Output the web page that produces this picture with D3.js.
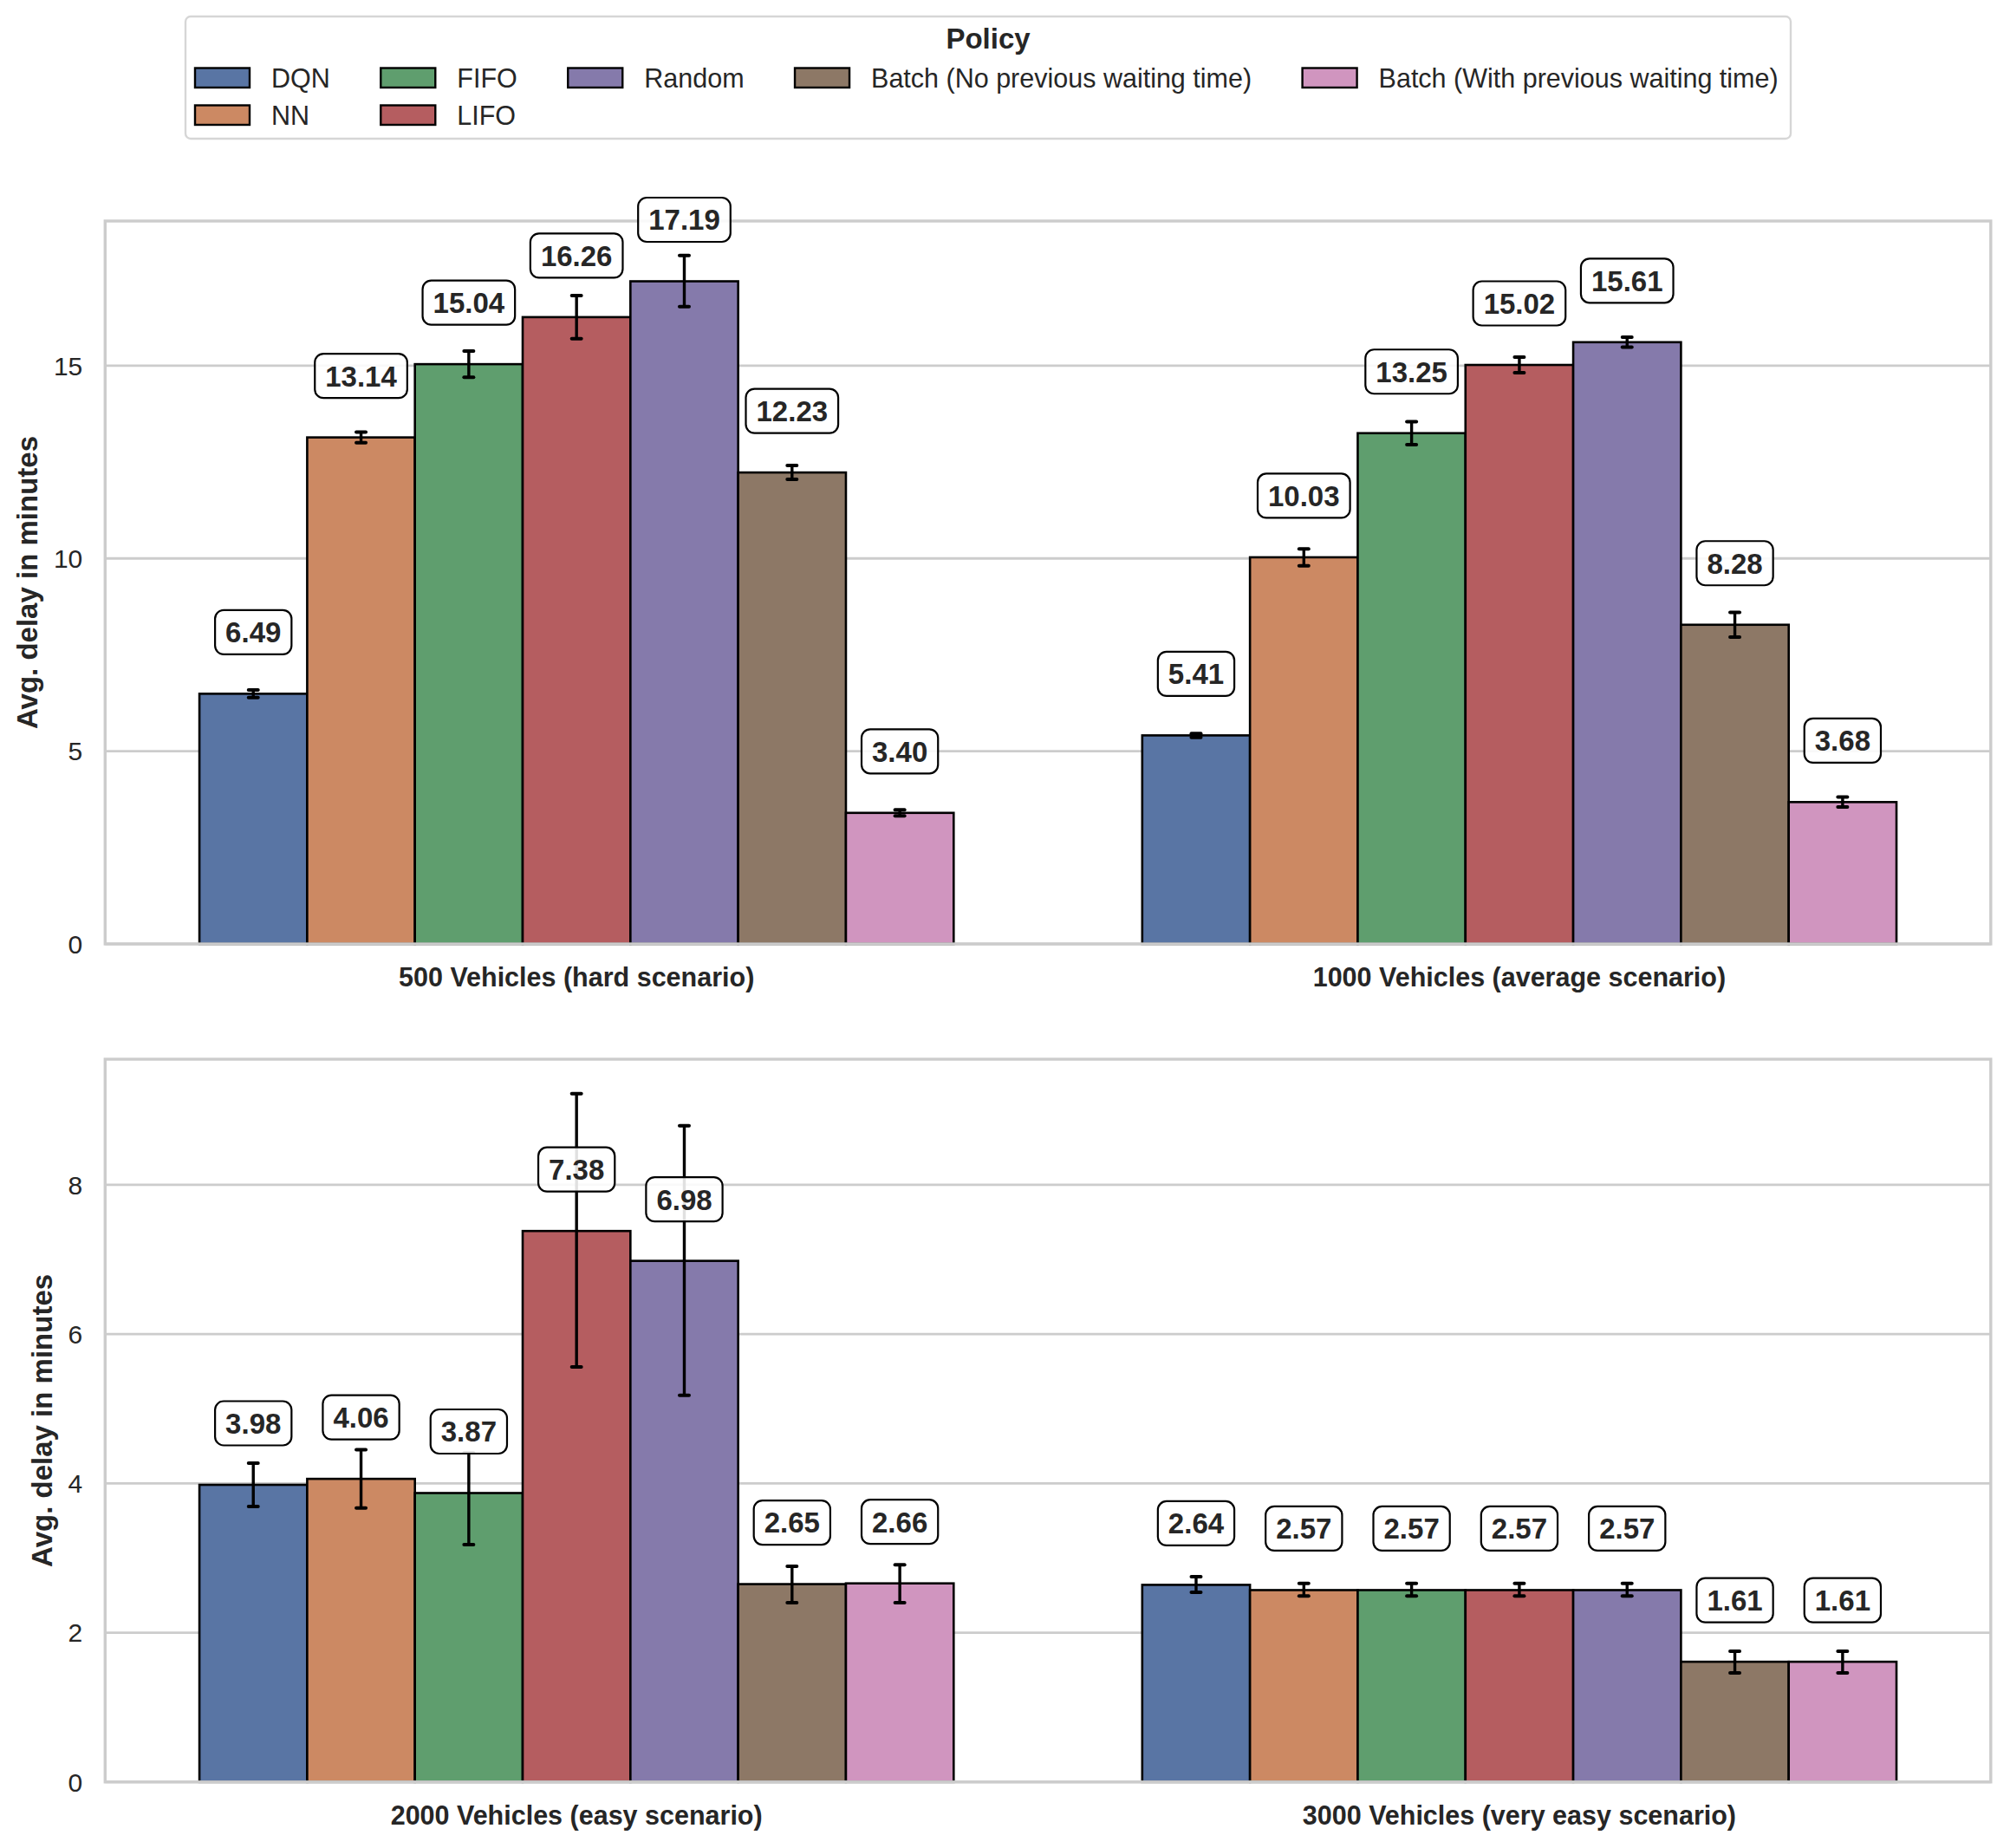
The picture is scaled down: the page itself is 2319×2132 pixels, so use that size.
<!DOCTYPE html>
<html>
<head>
<meta charset="utf-8">
<script src="https://cdn.jsdelivr.net/npm/d3@7"></script>
<style>
  html, body { margin: 0; padding: 0; background: #fff; }
  svg { display: block; font-family: "Liberation Sans", Arial, sans-serif; }
</style>
</head>
<body>
<div id="chart"></div>
<script>
// Policies and palette (seaborn "deep", desaturated like barplot)
const policies = ['DQN', 'NN', 'FIFO', 'LIFO', 'Random',
  'Batch (No previous waiting time)', 'Batch (With previous waiting time)'];
const policyColors = ['#5975a4', '#cc8963', '#5f9e6e', '#b55d60', '#857aab', '#8d7866', '#d095bf'];

// Top panel
const topScenarios = ['500 Vehicles (hard scenario)', '1000 Vehicles (average scenario)'];
const topMeans = [
  [6.49, 13.14, 15.04, 16.26, 17.19, 12.23, 3.40],
  [5.41, 10.03, 13.25, 15.02, 15.61, 8.28, 3.68],
];
const topLow = [
  [6.39, 13.00, 14.70, 15.70, 16.53, 12.05, 3.32],
  [5.36, 9.81, 12.95, 14.82, 15.48, 7.96, 3.55],
];
const topHigh = [
  [6.59, 13.28, 15.38, 16.82, 17.86, 12.41, 3.48],
  [5.46, 10.25, 13.55, 15.22, 15.74, 8.60, 3.81],
];
const topTicks = [0, 5, 10, 15];

// Bottom panel
const bottomScenarios = ['2000 Vehicles (easy scenario)', '3000 Vehicles (very easy scenario)'];
const bottomMeans = [
  [3.98, 4.06, 3.87, 7.38, 6.98, 2.65, 2.66],
  [2.64, 2.57, 2.57, 2.57, 2.57, 1.61, 1.61],
];
const bottomLow = [
  [3.69, 3.67, 3.18, 5.56, 5.18, 2.40, 2.40],
  [2.54, 2.49, 2.49, 2.49, 2.49, 1.46, 1.46],
];
const bottomHigh = [
  [4.27, 4.45, 4.41, 9.22, 8.79, 2.89, 2.91],
  [2.75, 2.66, 2.66, 2.66, 2.66, 1.75, 1.75],
];
const bottomTicks = [0, 2, 4, 6, 8];

const W = 2319, H = 2132;
const TEXT = '#262626';
const GRID = '#cccccc';

const svg = d3.select('#chart').append('svg')
  .attr('width', W).attr('height', H)
  .attr('viewBox', `0 0 ${W} ${H}`);
svg.append('rect').attr('width', W).attr('height', H).attr('fill', '#fff');

function drawPanel(box, scenarios, means, low, high, ticks) {
  const g = svg.append('g');
  const maxTop = d3.max(high.flat());
  const y = d3.scaleLinear().domain([0, maxTop * 1.05]).range([box.bottom, box.top]);
  const x0 = d3.scaleBand().domain(scenarios).range([box.left, box.right])
    .paddingInner(0.2).paddingOuter(0.1);
  const x1 = d3.scaleBand().domain(policies).range([0, x0.bandwidth()]);

  // gridlines
  g.selectAll('.grid').data(ticks).enter().append('line')
    .attr('x1', box.left).attr('x2', box.right)
    .attr('y1', (d) => y(d)).attr('y2', (d) => y(d))
    .attr('stroke', GRID).attr('stroke-width', 2.8);

  // y tick labels
  const tickText = g.selectAll('.ytick').data(ticks).enter().append('text')
    .attr('x', box.left - 26)
    .attr('y', (d) => y(d))
    .attr('dy', '0.36em')
    .attr('text-anchor', 'end')
    .attr('font-size', 30)
    .attr('fill', TEXT)
    .text((d) => d);

  // rows: one record per bar
  const rows = [];
  scenarios.forEach((s, si) => {
    policies.forEach((p, pi) => {
      rows.push({ s, p, pi, v: means[si][pi], lo: low[si][pi], hi: high[si][pi] });
    });
  });

  // bars
  g.selectAll('.bar').data(rows).enter().append('rect')
    .attr('x', (d) => x0(d.s) + x1(d.p))
    .attr('y', (d) => y(d.v))
    .attr('width', x1.bandwidth())
    .attr('height', (d) => y(0) - y(d.v))
    .attr('fill', (d) => policyColors[d.pi])
    .attr('stroke', '#000')
    .attr('stroke-width', 2.6);

  // spines
  g.append('rect')
    .attr('x', box.left).attr('y', box.top)
    .attr('width', box.right - box.left).attr('height', box.bottom - box.top)
    .attr('fill', 'none').attr('stroke', GRID).attr('stroke-width', 3.4);

  // error bars
  const cx = (d) => x0(d.s) + x1(d.p) + x1.bandwidth() / 2;
  const eb = g.selectAll('.err').data(rows).enter().append('g');
  eb.append('line')
    .attr('x1', cx).attr('x2', cx)
    .attr('y1', (d) => y(d.lo)).attr('y2', (d) => y(d.hi))
    .attr('stroke', '#000').attr('stroke-width', 3.4);
  ['lo', 'hi'].forEach((k) => {
    eb.append('line')
      .attr('x1', (d) => cx(d) - 5.5).attr('x2', (d) => cx(d) + 5.5)
      .attr('y1', (d) => y(d[k])).attr('y2', (d) => y(d[k]))
      .attr('stroke', '#000').attr('stroke-width', 4)
      .attr('stroke-linecap', 'round');
  });

  // value labels in rounded boxes
  const lab = g.selectAll('.lab').data(rows).enter().append('g')
    .attr('transform', (d) => `translate(${cx(d)},${y(d.v) - 71})`);
  lab.append('rect');
  const texts = lab.append('text')
    .attr('text-anchor', 'middle')
    .attr('dy', '0.36em')
    .attr('font-size', 33)
    .attr('font-weight', 'bold')
    .attr('fill', TEXT)
    .text((d) => d.v.toFixed(2));
  texts.each(function () {
    const w = this.getComputedTextLength();
    d3.select(this.parentNode).select('rect')
      .attr('x', -w / 2 - 12).attr('y', -25.5)
      .attr('width', w + 24).attr('height', 51)
      .attr('rx', 10).attr('ry', 10)
      .attr('fill', 'rgba(255,255,255,0.88)')
      .attr('stroke', '#000').attr('stroke-width', 2.2);
  });

  // x tick labels
  g.selectAll('.xtick').data(scenarios).enter().append('text')
    .attr('x', (d) => x0(d) + x0.bandwidth() / 2)
    .attr('y', box.bottom + 49)
    .attr('text-anchor', 'middle')
    .attr('font-size', 30.5)
    .attr('font-weight', 'bold')
    .attr('fill', TEXT)
    .text((d) => d);

  // y axis label, placed left of the widest tick label
  let minX = Infinity;
  tickText.each(function () { minX = Math.min(minX, this.getBBox().x); });
  const yc = (box.top + box.bottom) / 2;
  g.append('text')
    .attr('transform', `translate(${minX - 11 - 8},${yc}) rotate(-90)`)
    .attr('text-anchor', 'middle')
    .attr('font-size', 33)
    .attr('font-weight', 'bold')
    .attr('fill', TEXT)
    .text('Avg. delay in minutes');
}

drawPanel({ left: 121.3, right: 2296.8, top: 255, bottom: 1089 },
  topScenarios, topMeans, topLow, topHigh, topTicks);
drawPanel({ left: 121.3, right: 2296.8, top: 1222, bottom: 2055.8 },
  bottomScenarios, bottomMeans, bottomLow, bottomHigh, bottomTicks);

// Legend: 5 columns, 2 rows; like matplotlib the first (n % ncol) columns get 2 entries
const legend = svg.append('g');
const legBox = { x: 214, y: 19, w: 1852, h: 141 };
legend.append('rect')
  .attr('x', legBox.x).attr('y', legBox.y)
  .attr('width', legBox.w).attr('height', legBox.h)
  .attr('rx', 6).attr('ry', 6)
  .attr('fill', '#fff').attr('stroke', '#d6d6d6').attr('stroke-width', 2.4);
legend.append('text')
  .attr('x', legBox.x + legBox.w / 2).attr('y', 56)
  .attr('text-anchor', 'middle')
  .attr('font-size', 33).attr('font-weight', 'bold').attr('fill', TEXT)
  .text('Policy');

const nCols = 5;
const nRows = Math.ceil(policies.length / nCols);
const nLarge = policies.length % nCols || nCols;
const colSizes = d3.range(nCols).map((c) => (c < nLarge ? nRows : nRows - 1));
const rowBase = [101, 144];
let colX = 225;
let idx = 0;
colSizes.forEach((size) => {
  let maxW = 0;
  for (let r = 0; r < size; r++, idx++) {
    const it = legend.append('g');
    it.append('rect')
      .attr('x', colX).attr('y', rowBase[r] - 22.5)
      .attr('width', 63).attr('height', 22.5)
      .attr('fill', policyColors[idx]).attr('stroke', '#000').attr('stroke-width', 2.4);
    const t = it.append('text')
      .attr('x', colX + 88).attr('y', rowBase[r])
      .attr('font-size', 30.5).attr('fill', TEXT)
      .text(policies[idx]);
    maxW = Math.max(maxW, t.node().getComputedTextLength());
  }
  colX += 88 + maxW + 58.5;
});
</script>
</body>
</html>
